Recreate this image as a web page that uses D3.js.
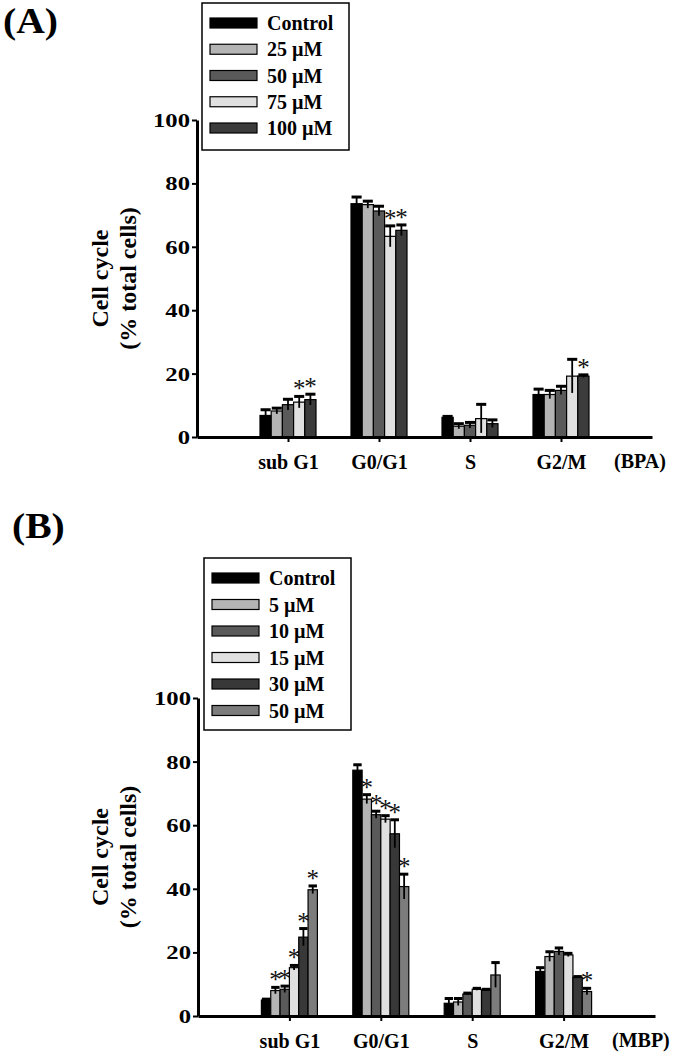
<!DOCTYPE html>
<html>
<head>
<meta charset="utf-8">
<script src="https://cdn.jsdelivr.net/npm/d3@7"></script>
<style>
  html, body { margin: 0; padding: 0; background: #fff; }
  svg { display: block; }
  text { font-family: "Liberation Serif", "Times New Roman", serif; font-weight: bold; fill: #000; }
</style>
</head>
<body>
<svg id="chart" width="675" height="1055"></svg>
<script>
// ---------- DATA ----------
const categories = ["sub G1", "G0/G1", "S", "G2/M"];
const yTicks = [0, 20, 40, 60, 80, 100];

// Panel A (BPA)
const seriesA = ["Control", "25 \u00B5M", "50 \u00B5M", "75 \u00B5M", "100 \u00B5M"];
const valuesA = [
  [6.8, 73.6, 6.2, 13.4],   // Control
  [8.2, 73.3, 3.4, 13.4],   // 25 µM
  [10.2, 71.3, 3.7, 14.7],  // 50 µM
  [11.0, 63.3, 5.8, 19.2],  // 75 µM
  [11.8, 65.2, 4.2, 19.2]   // 100 µM
];
const errorsA = [
  [1.8, 2.1, 0.3, 1.7],
  [0.9, 1.1, 0.8, 1.3],
  [1.7, 1.5, 0.9, 1.3],
  [1.8, 3.3, 4.5, 5.3],
  [1.7, 1.7, 1.2, 0.4]
];
// significance flags [series][category]
const starsA = [
  [0, 0, 0, 0],
  [0, 0, 0, 0],
  [0, 0, 0, 0],
  [1, 1, 0, 0],
  [1, 1, 0, 1]
];
const colorsA = ["#000000", "#b4b4b4", "#5a5a5a", "#e0e0e0", "#3c3c3c"];

// Panel B (MBP)
const seriesB = ["Control", "5 \u00B5M", "10 \u00B5M", "15 \u00B5M", "30 \u00B5M", "50 \u00B5M"];
const valuesB = [
  [5.0, 77.3, 4.0, 14.0],   // Control
  [8.0, 68.2, 4.4, 18.7],   // 5 µM
  [8.4, 63.3, 6.9, 20.3],   // 10 µM
  [15.2, 61.9, 8.4, 19.2],  // 15 µM
  [24.8, 57.3, 8.2, 12.2],  // 30 µM
  [39.7, 40.7, 12.9, 7.7]   // 50 µM
];
const errorsB = [
  [0.3, 1.7, 1.5, 1.2],
  [1.0, 1.4, 1.1, 1.5],
  [1.0, 1.1, 0.3, 1.1],
  [0.7, 1.1, 0.3, 0.5],
  [2.7, 4.4, 0.2, 0.2],
  [1.2, 3.9, 3.9, 1.0]
];
const starsB = [
  [0, 0, 0, 0],
  [1, 1, 0, 0],
  [1, 1, 0, 0],
  [1, 1, 0, 0],
  [1, 1, 0, 0],
  [1, 1, 0, 1]
];
const colorsB = ["#000000", "#b4b4b4", "#5a5a5a", "#e0e0e0", "#383838", "#7c7c7c"];

// ---------- DRAW ----------
const svg = d3.select("#chart");

function drawPanel(cfg) {
  const g = svg.append("g");
  const x = d3.scaleLinear().domain([0, categories.length + 1]).range([cfg.x0, cfg.x1]);
  const y = d3.scaleLinear().domain([0, 100]).range([cfg.y0, cfg.y100]);
  const inner = d3.scaleBand().domain(d3.range(cfg.series.length)).range([-28, 28]).padding(0);
  const catPos = i => x(i + 1);

  // bars
  cfg.series.forEach((s, si) => {
    categories.forEach((c, ci) => {
      const v = cfg.values[si][ci];
      const e = cfg.errors[si][ci];
      const bx = catPos(ci) + inner(si);
      const bw = inner.bandwidth();
      g.append("rect")
        .attr("x", bx).attr("y", y(v))
        .attr("width", bw).attr("height", y(0) - y(v))
        .attr("fill", cfg.colors[si])
        .attr("stroke", "#000").attr("stroke-width", 1.2);
      const cx = bx + bw / 2;
      g.append("line")
        .attr("x1", cx).attr("x2", cx)
        .attr("y1", y(v - e)).attr("y2", y(v + e))
        .attr("stroke", "#000").attr("stroke-width", 1.8);
      g.append("line")
        .attr("x1", cx - bw * 0.45).attr("x2", cx + bw * 0.45)
        .attr("y1", y(v + e)).attr("y2", y(v + e))
        .attr("stroke", "#000").attr("stroke-width", 3);
      if (cfg.stars[si][ci]) {
        g.append("text")
          .attr("x", cx).attr("y", y(v + e) + 1)
          .attr("text-anchor", "middle")
          .style("font-size", "25px")
          .style("font-weight", "normal")
          .style("fill", "#111")
          .text("*");
      }
    });
  });

  // y axis
  const ya = g.append("g")
    .attr("transform", `translate(${cfg.x0},0)`)
    .call(d3.axisLeft(y).tickValues(yTicks).tickSize(5).tickSizeOuter(0).tickFormat(d => d));
  ya.select(".domain").attr("stroke", "#000").attr("stroke-width", 3);
  ya.selectAll(".tick line").attr("stroke", "#000").attr("stroke-width", 2);
  ya.selectAll(".tick text")
    .attr("x", -7 / 1.3).attr("dy", "0.34em")
    .attr("transform", "scale(1.3,1)")
    .style("font-size", "19px");

  // x axis
  const xa = g.append("g")
    .attr("transform", `translate(0,${cfg.y0})`)
    .call(d3.axisBottom(x).tickValues(categories.map((c, i) => i + 1)).tickSize(5).tickSizeOuter(0)
      .tickFormat((d) => categories[d - 1]));
  xa.select(".domain").attr("stroke", "#000").attr("stroke-width", 3);
  xa.selectAll(".tick line").attr("stroke", "#000").attr("stroke-width", 2);
  xa.selectAll(".tick text").attr("y", 32).attr("dy", 0).style("font-size", "20px");

  g.append("text").attr("x", cfg.tagX).attr("y", cfg.y0 + 31)
    .style("font-size", "20px").text(cfg.tag);

  // y title
  const midY = (cfg.y0 + cfg.y100) / 2;
  g.append("text")
    .attr("transform", `translate(108,${midY}) rotate(-90)`)
    .attr("text-anchor", "middle").style("font-size", "24px").text("Cell cycle");
  g.append("text")
    .attr("transform", `translate(136,${midY}) rotate(-90)`)
    .attr("text-anchor", "middle").style("font-size", "24px").text("(% total cells)");

  // panel label
  g.append("text").attr("x", cfg.labelX).attr("y", cfg.labelY)
    .attr("transform", `translate(${cfg.labelX},0) scale(1.1,1) translate(${-cfg.labelX},0)`)
    .style("font-size", "36px").text(cfg.label);

  // legend
  const lg = g.append("g");
  lg.append("rect")
    .attr("x", cfg.legX).attr("y", cfg.legY)
    .attr("width", 147).attr("height", cfg.legH)
    .attr("fill", "#fff").attr("stroke", "#000").attr("stroke-width", 1.5);
  cfg.series.forEach((s, si) => {
    const cy = cfg.legRow0 + si * cfg.legStep;
    lg.append("rect")
      .attr("x", cfg.legX + 8).attr("y", cy - 5)
      .attr("width", 47).attr("height", 10)
      .attr("fill", cfg.colors[si]).attr("stroke", "#000").attr("stroke-width", 1.2);
    lg.append("text")
      .attr("x", cfg.legX + 65).attr("y", cy + 7)
      .style("font-size", "20px").text(s);
  });
}

drawPanel({
  series: seriesA, values: valuesA, errors: errorsA, stars: starsA, colors: colorsA,
  x0: 197, x1: 652, y0: 437, y100: 120,
  tag: "(BPA)", tagX: 614,
  label: "(A)", labelX: 3, labelY: 33,
  legX: 202, legY: 3, legH: 147, legRow0: 23, legStep: 26.25
});

drawPanel({
  series: seriesB, values: valuesB, errors: errorsB, stars: starsB, colors: colorsB,
  x0: 198, x1: 655, y0: 1016, y100: 698,
  tag: "(MBP)", tagX: 612,
  label: "(B)", labelX: 12, labelY: 538,
  legX: 204, legY: 558, legH: 172, legRow0: 578, legStep: 26.5
});
</script>
</body>
</html>
